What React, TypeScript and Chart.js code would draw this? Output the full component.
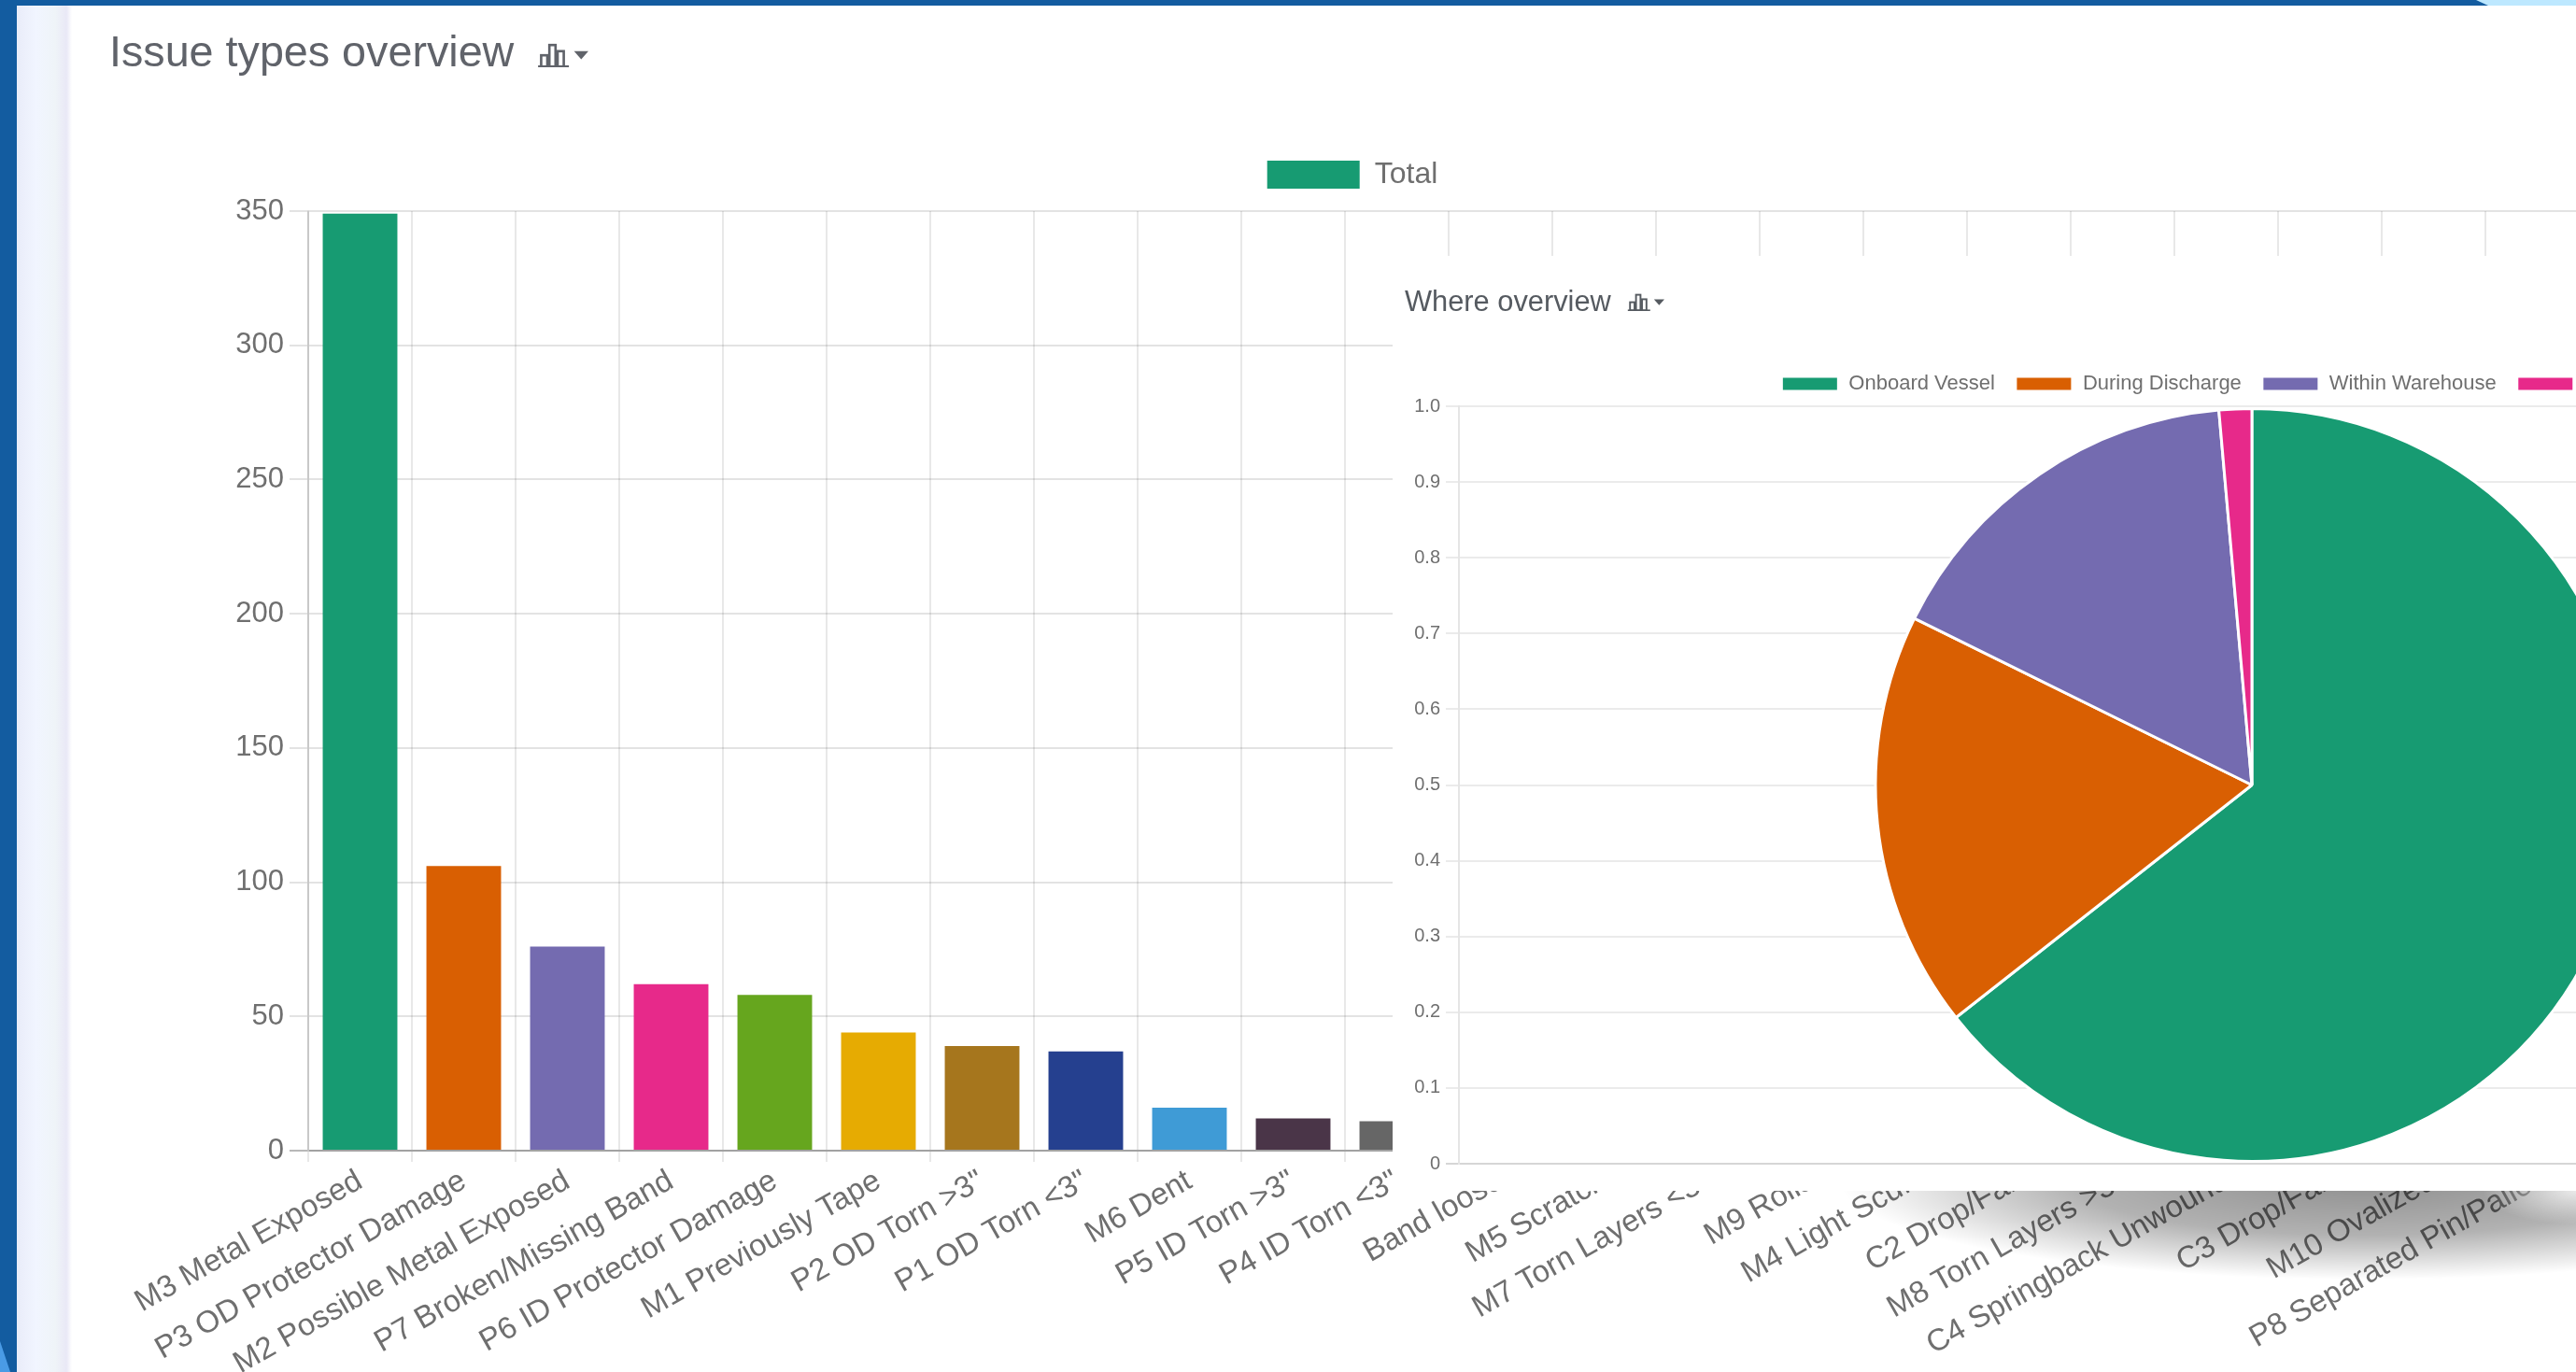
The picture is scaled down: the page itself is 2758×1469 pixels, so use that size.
import React, { useEffect, useRef } from "react";
import { Chart, registerables } from "chart.js";

Chart.register(...registerables);

const issueLabels = [
  "M3 Metal Exposed", "P3 OD Protector Damage", "M2 Possible Metal Exposed", "P7 Broken/Missing Band",
  "P6 ID Protector Damage", "M1 Previously Tape", 'P2 OD Torn >3"', 'P1 OD Torn <3"', "M6 Dent",
  'P5 ID Torn >3"', 'P4 ID Torn <3"', "Band loose", "M5 Scratch", 'M7 Torn Layers <3"', "M9 Rolls",
  "M4 Light Scuff", "C2 Drop/Fall", 'M8 Torn Layers >3"', "C4 Springback Unwound", "C3 Drop/Fall",
  "M10 Ovalized", "P8 Separated Pin/Pallet",
];
const issueTotals = [349, 106, 76, 62, 58, 44, 39, 37, 16, 12, 11, 10, 9, 8, 7, 6, 5, 4, 4, 3, 2, 1];
const issueColors = [
  "#179b72", "#d95f02", "#746bb0", "#e7298a", "#66a61e", "#e6ab02", "#a6761d", "#25408f", "#3f9bd6",
  "#4a3548", "#666666", "#179b72", "#d95f02", "#746bb0", "#e7298a", "#66a61e", "#e6ab02", "#a6761d",
  "#25408f", "#3f9bd6", "#4a3548", "#666666",
];
const whereLabels = ["Onboard Vessel", "During Discharge", "Within Warehouse", "In Transit"];
const whereShares = [64.4, 17.9, 16.3, 1.4];
const whereColors = ["#179b72", "#d95f02", "#746bb0", "#e7298a"];

const FONT = "'Liberation Sans', Arial, sans-serif";
const TICK = "#6f6f6f";

function Icon({ x, y, s, color }: { x: number; y: number; s: number; color: string }) {
  return (
    <svg style={{ position: "absolute", left: x, top: y }} width={52 * s} height={24 * s} viewBox="0 0 52 24">
      <g fill="none" stroke={color} strokeWidth="2.4">
        <path d="M1 23H31" />
        <rect x="4" y="12" width="6" height="11" />
        <rect x="12" y="2" width="6" height="21" />
        <rect x="20" y="8" width="6" height="15" />
      </g>
      <path d="M36 8H50L43 16Z" fill={color} />
    </svg>
  );
}

export default function App() {
  const barRef = useRef<HTMLCanvasElement>(null);
  const pieRef = useRef<HTMLCanvasElement>(null);

  useEffect(() => {
    const bar = new Chart(barRef.current!, {
      type: "bar",
      data: {
        labels: issueLabels,
        datasets: [{ label: "Total", data: issueTotals, backgroundColor: issueColors }],
      },
      options: {
        animation: false,
        responsive: false,
        devicePixelRatio: 1,
        layout: { padding: { left: 24, right: 24, top: 0, bottom: 0 } },
        plugins: {
          tooltip: { enabled: false },
          title: { display: true, text: "", weight: 500, font: { size: 1, lineHeight: 1 }, padding: { top: 0, bottom: 12 } },
          legend: {
            position: "top",
            labels: {
              boxWidth: 99,
              boxHeight: 30,
              padding: 33,
              color: TICK,
              font: { family: FONT, size: 32 },
              generateLabels: () => [
                { text: "Total", fillStyle: issueColors[0], strokeStyle: issueColors[0], fontColor: TICK, lineWidth: 0, datasetIndex: 0, hidden: false } as any,
              ],
            },
          },
        },
        scales: {
          x: {
            afterFit: (s: any) => { s.height = 340; },
            grid: { color: "rgba(0,0,0,0.09)", lineWidth: 2, tickLength: 12 },
            border: { color: "rgba(0,0,0,0.12)", width: 2 },
            ticks: {
              autoSkip: false, minRotation: 29.5, maxRotation: 29.5, color: TICK, padding: 1,
              font: { family: FONT, size: 33 },
            },
          },
          y: {
            min: 0, max: 350,
            afterFit: (s: any) => { s.width = 206; },
            grid: {
              lineWidth: 2, tickLength: 20,
              color: (c: any) => (c.tick && c.tick.value === 0 ? "rgba(0,0,0,0.28)" : "rgba(0,0,0,0.11)"),
            },
            border: { color: "rgba(0,0,0,0.14)", width: 2 },
            ticks: { stepSize: 50, color: TICK, padding: 6, font: { family: FONT, size: 31 } },
          },
        },
      },
    } as any);

    const pie = new Chart(pieRef.current!, {
      type: "pie",
      data: {
        labels: whereLabels,
        datasets: [{ data: whereShares, backgroundColor: whereColors, borderColor: "#ffffff", borderWidth: 3 }],
      },
      options: {
        animation: false,
        responsive: false,
        devicePixelRatio: 1,
        radius: 403,
        layout: { padding: { left: 14, right: 19 } },
        plugins: {
          tooltip: { enabled: false },
          title: { display: true, text: "", weight: 500, font: { size: 1, lineHeight: 1 }, padding: { top: 0, bottom: 2 } },
          legend: {
            position: "top",
            labels: {
              boxWidth: 61, boxHeight: 16, padding: 22, color: TICK,
              font: { family: FONT, size: 22 },
            },
          },
        },
        scales: {
          x: {
            type: "category", labels: [], display: true,
            afterFit: (s: any) => { s.height = 29; },
            grid: { display: false },
            border: { display: false },
            ticks: { display: false },
          },
          y: {
            type: "linear", min: 0, max: 1,
            afterFit: (s: any) => { s.width = 57; },
            grid: {
              lineWidth: 2, tickLength: 14,
              color: (c: any) => (c.tick && c.tick.value === 0 ? "rgba(0,0,0,0.16)" : "rgba(0,0,0,0.08)"),
            },
            border: { color: "rgba(0,0,0,0.1)", width: 2 },
            ticks: { stepSize: 0.1, color: TICK, padding: 6, font: { family: FONT, size: 20 } },
          },
        },
      },
    } as any);

    return () => { bar.destroy(); pie.destroy(); };
  }, []);

  const soft = "blur(0.7px)";
  return (
    <div style={{ position: "fixed", left: 0, top: 0, width: 2758, height: 1469, overflow: "hidden", background: "#fff", fontFamily: FONT }}>
      <div style={{ position: "absolute", left: 18, top: 0, width: 59, height: 1469, background: "linear-gradient(90deg,#e9ecf9,#f1f5ff 35%,#eff4f8 70%,#e9e8f6 90%,#ffffff)" }} />
      <canvas ref={barRef} width={2696} height={1434} style={{ position: "absolute", left: 100, top: 138, display: "block", filter: soft }} />
      <div style={{ position: "absolute", left: 117, top: 27, fontSize: 46.7, lineHeight: "56px", color: "#60636a", filter: soft, whiteSpace: "nowrap" }}>Issue types overview</div>
      <Icon x={575} y={46} s={1.1} color="#60636a" />
      <div style={{ position: "absolute", left: 0, top: 0, width: 2758, height: 1469, background: "radial-gradient(ellipse 100px 36px at 2758px 1275px, rgba(255,255,255,0.75), rgba(255,255,255,0) 100%), radial-gradient(ellipse 560px 105px at 2530px 1265px, rgba(0,0,0,0.44), rgba(0,0,0,0.3) 55%, rgba(0,0,0,0) 100%)" }} />
      <div style={{ position: "absolute", left: 1491, top: 274, width: 1400, height: 1001, background: "#fff" }} />
      <canvas ref={pieRef} width={1788} height={897} style={{ position: "absolute", left: 1491, top: 378, display: "block", filter: soft }} />
      <div style={{ position: "absolute", left: 1504, top: 303, fontSize: 30.8, lineHeight: "40px", color: "#555a60", filter: soft, whiteSpace: "nowrap" }}>Where overview</div>
      <Icon x={1742} y={314} s={0.8} color="#555a60" />
      <div style={{ position: "absolute", left: 0, top: 0, width: 2758, height: 6, background: "#135ca0" }} />
      <div style={{ position: "absolute", left: 2640, top: 0, width: 118, height: 6, background: "#bde8ff", clipPath: "polygon(11px 0, 100% 0, 100% 100%, 24px 100%)" }} />
      <div style={{ position: "absolute", left: 0, top: 0, width: 18, height: 1469, background: "#135ca0" }} />
      <div style={{ position: "absolute", left: 0, top: 1436, width: 18, height: 33, background: "#4a9be5", clipPath: "polygon(0 0, 11px 100%, 0 100%)" }} />
    </div>
  );
}
